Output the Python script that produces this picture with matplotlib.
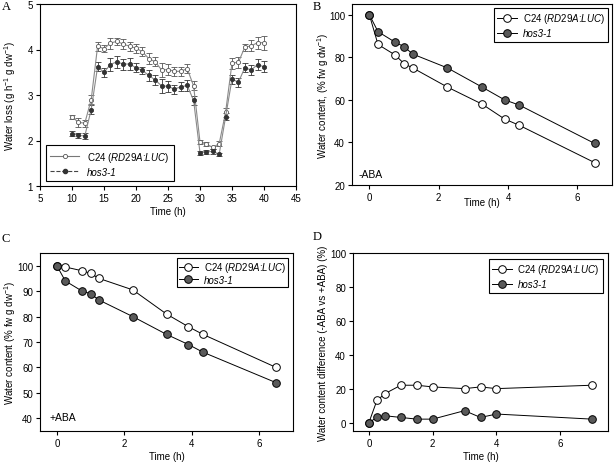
import numpy as np
import matplotlib
matplotlib.use('Agg')
import matplotlib.pyplot as plt
from matplotlib.lines import Line2D

plt.rcParams['font.family'] = ['Liberation Sans', 'DejaVu Sans']
plt.rcParams['mathtext.fontset'] = 'custom'
plt.rcParams['mathtext.rm'] = 'Liberation Sans'
plt.rcParams['mathtext.it'] = 'Liberation Sans:italic'
plt.rcParams['font.size'] = 7

# Panel A - water loss over time
hours_a = list(range(10, 41))
c24_loss = [2.52, 2.40, 2.38, 2.90, 4.07, 4.02, 4.14, 4.18, 4.12, 4.07, 4.03,
            3.95, 3.80, 3.73, 3.55, 3.56, 3.52, 3.52, 3.58, 3.20, 1.97,
            1.92, 1.85, 1.93, 2.62, 3.70, 3.72, 4.05, 4.08, 4.15, 4.15]
c24_loss_err = [0.05, 0.10, 0.08, 0.10, 0.10, 0.08, 0.12, 0.08, 0.10, 0.10, 0.10,
                0.10, 0.12, 0.10, 0.15, 0.12, 0.10, 0.10, 0.10, 0.10, 0.05,
                0.04, 0.04, 0.05, 0.10, 0.12, 0.12, 0.08, 0.12, 0.13, 0.15]
hos_loss = [2.15, 2.11, 2.10, 2.68, 3.62, 3.50, 3.67, 3.73, 3.68, 3.68, 3.60,
            3.54, 3.43, 3.33, 3.20, 3.19, 3.13, 3.18, 3.21, 2.88, 1.73,
            1.75, 1.76, 1.70, 2.52, 3.35, 3.28, 3.60, 3.55, 3.67, 3.62]
hos_loss_err = [0.06, 0.06, 0.06, 0.10, 0.10, 0.10, 0.15, 0.13, 0.12, 0.14, 0.10,
                0.08, 0.12, 0.10, 0.15, 0.12, 0.10, 0.10, 0.12, 0.10, 0.05,
                0.05, 0.05, 0.03, 0.08, 0.10, 0.10, 0.10, 0.10, 0.13, 0.12]

# Panels B and C - water content
hours_bc = [0, 0.25, 0.75, 1.0, 1.25, 2.25, 3.25, 3.9, 4.33, 6.5]
c24_minus = [100, 86, 81, 77, 75, 66, 58, 51, 48, 30.5]
hos_minus = [100, 92, 87, 85, 81.5, 75, 66, 60, 57.5, 39.5]
c24_plus = [100, 99.5, 98, 97, 95, 90.5, 81, 76, 73, 60]
hos_plus = [100, 94, 90, 89, 86.5, 80, 73, 69, 66, 54]

# Panel D - difference
hours_d = [0, 0.25, 0.5, 1, 1.5, 2, 3, 3.5, 4, 7]
c24_diff = [0, 13, 17, 22, 22, 21, 20, 21, 20, 22]
hos_diff = [0, 3, 4, 3, 2, 2, 7, 3, 5, 2]

c24_label = r'C24 ($\it{RD29A}$:$\it{LUC}$)'
hos_label = 'hos3-1'
dark = '#5a5a5a'

fig = plt.figure(figsize=(6.14, 4.64), dpi=100)
W, H = 614, 464


def add_ax(l, t, r, b):
    ax = fig.add_axes([l / W, 1 - b / H, (r - l) / W, (b - t) / H])
    ax._px = (l, t, r, b)
    return ax


def place_labels(ax, ylab_x, xlab_y):
    # label centres given in figure pixels
    l, t, r, b = ax._px
    ax.yaxis.set_label_coords((ylab_x - l) / (r - l), 0.5)
    ax.yaxis.label.set_va('center')
    ax.xaxis.set_label_coords(0.5, (b - xlab_y) / (b - t))
    ax.xaxis.label.set_va('center')


def style_legend(leg):
    leg.get_frame().set_linewidth(0.8)
    leg.get_texts()[1].set_fontstyle('italic')


# A
axA = add_ax(40, 5, 296, 187)
axA.errorbar(hours_a, c24_loss, yerr=c24_loss_err, color='#8a8a8a', lw=0.8,
             marker='o', ms=3, mfc='white', mec='#555555', mew=0.6,
             ecolor='#555555', elinewidth=0.6, capsize=2, capthick=0.6)
axA.errorbar(hours_a, hos_loss, yerr=hos_loss_err, color='#8a8a8a', lw=0.8,
             marker='o', ms=3, mfc='#333333', mec='#333333', mew=0.6,
             ecolor='#333333', elinewidth=0.6, capsize=2, capthick=0.6)
axA.set_xlim(5, 45)
axA.set_ylim(1, 5)
axA.set_xticks(range(5, 46, 5))
axA.set_yticks(range(1, 6))
axA.set_xlabel('Time (h)')
axA.set_ylabel(r'Water loss (g h$^{-1}$ g dw$^{-1}$)')
place_labels(axA, 10, 212)
handles_a = [
    Line2D([], [], color='#777777', lw=0.8, marker='o', ms=3, mfc='white', mec='#555555', mew=0.6),
    Line2D([], [], color='#444444', lw=0.8, ls='--', marker='o', ms=3, mfc='#333333', mec='#333333'),
]
leg = axA.legend(handles_a, [c24_label, hos_label], loc='lower left', fancybox=False,
                 edgecolor='black', framealpha=1, fontsize=7, handlelength=3.0,
                 borderpad=0.45, labelspacing=0.3, borderaxespad=0,
                 bbox_to_anchor=(0.023, 0.027))
style_legend(leg)


def content_panel(ax, x, c24, hos, anchor, bpad, lspace):
    ax.plot(x, c24, color='black', lw=0.7, marker='o', ms=5.5, mfc='white',
            mec='black', mew=0.7, label=c24_label)
    ax.plot(x, hos, color='black', lw=0.7, marker='o', ms=5.5, mfc=dark,
            mec='black', mew=0.7, label=hos_label)
    lg = ax.legend(loc='upper right', fancybox=False, edgecolor='black', framealpha=1,
                   fontsize=7, handlelength=2.0, borderpad=bpad, labelspacing=lspace,
                   handletextpad=0.6, borderaxespad=0, bbox_to_anchor=anchor)
    style_legend(lg)
    ax.set_xlabel('Time (h)')


# B
axB = add_ax(352, 5, 612, 186)
content_panel(axB, hours_bc, c24_minus, hos_minus, (0.985, 0.978), 0.35, 0.3)
axB.set_xlim(-0.5, 7)
axB.set_ylim(20, 105)
axB.set_xticks([0, 2, 4, 6])
axB.set_yticks(range(20, 101, 20))
axB.set_ylabel(r'Water content, (% fw g dw$^{-1}$)')
place_labels(axB, 323, 203)
axB.text(0.027, 0.044, '-ABA', transform=axB.transAxes, fontsize=7.5)

# C
axC = add_ax(40, 254, 293, 432)
content_panel(axC, hours_bc, c24_plus, hos_plus, (0.98, 0.972), 0.2, 0.1)
axC.set_xlim(-0.5, 7)
axC.set_ylim(35, 105)
axC.set_xticks([0, 2, 4, 6])
axC.set_yticks(range(40, 101, 10))
axC.set_ylabel(r'Water content (% fw g dw$^{-1}$)')
place_labels(axC, 10, 457)
axC.text(0.036, 0.062, '+ABA', transform=axC.transAxes, fontsize=7.5)

# D
axD = add_ax(353, 254, 608, 432)
content_panel(axD, hours_d, c24_diff, hos_diff, (0.98, 0.966), 0.35, 0.3)
axD.set_xlim(-0.5, 7.5)
axD.set_ylim(-5, 100)
axD.set_xticks([0, 2, 4, 6])
axD.set_yticks(range(0, 101, 20))
axD.set_ylabel('Water content difference (-ABA vs +ABA) (%)')
place_labels(axD, 323, 457)

for ax in (axA, axB, axC, axD):
    ax.tick_params(direction='out', length=3, width=0.8, labelsize=7, pad=2)
    for s in ax.spines.values():
        s.set_linewidth(0.8)

for lbl, x, y in [('A', 2, 10), ('B', 313, 10), ('C', 1, 242), ('D', 313, 240)]:
    fig.text(x / W, 1 - y / H, lbl, family='Liberation Serif', fontsize=9)

fig.savefig('out.png', dpi=100)
